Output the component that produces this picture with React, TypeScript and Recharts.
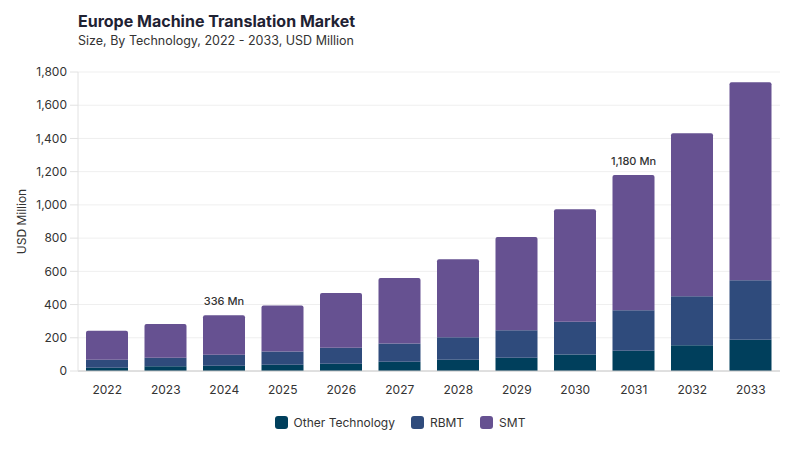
import { BarChart, Bar, XAxis, YAxis, CartesianGrid, LabelList } from "recharts";

const years = ["2022", "2023", "2024", "2025", "2026", "2027", "2028", "2029", "2030", "2031", "2032", "2033"];
const otherTech = [20, 28, 32, 38, 44, 56, 68, 80, 100, 122, 155, 188];
const rbmt = [48, 52, 66, 80, 96, 109, 135, 165, 197, 243, 295, 358];
const smt = [175, 203, 238, 277, 329, 395, 469, 562, 676, 815, 981, 1192];
const yTicks = [0, 200, 400, 600, 800, 1000, 1200, 1400, 1600, 1800];
const labelled = ["2024", "2031"];

const data = years.map((year, i) => ({
  year,
  other: otherTech[i],
  rbmt: rbmt[i],
  smt: smt[i],
  total: otherTech[i] + rbmt[i] + smt[i],
}));

const FONT = "Inter, 'Noto Sans', sans-serif";

const series = [
  { key: "other", name: "Other Technology", color: "#003f5c" },
  { key: "rbmt", name: "RBMT", color: "#2f4b7c" },
  { key: "smt", name: "SMT", color: "#665191" },
];

const TotalLabel = (props: any) => {
  const { x, y, width, index } = props;
  const d = data[index];
  if (!labelled.includes(d.year)) return null;
  return (
    <text x={x + width / 2} y={y - 10} textAnchor="middle" fontSize={11} fill="#333" fontFamily={FONT} fontWeight={500}>
      {d.total.toLocaleString("en-US")} Mn
    </text>
  );
};

export default function App() {
  return (
    <div style={{ position: "absolute", left: 0, top: 0, width: 800, height: 450, background: "#fff", fontFamily: FONT }}>
      <div style={{ position: "absolute", left: 78, top: 11, fontSize: 16, fontWeight: 700, color: "#1f2233" }}>
        Europe Machine Translation Market
      </div>
      <div style={{ position: "absolute", left: 78, top: 33, fontSize: 12.5, color: "#333" }}>
        Size, By Technology, 2022 - 2033, USD Million
      </div>
      <BarChart width={800} height={450} data={data} margin={{ top: 72, right: 20, bottom: 49, left: 0 }} barSize={42}>
        <CartesianGrid vertical={false} stroke="#efefef" />
        <XAxis dataKey="year" axisLine={{ stroke: "#c8c8c8" }} tickLine={false} tickMargin={8}
          tick={{ fontSize: 12, fill: "#333", fontFamily: FONT }} height={30} />
        <YAxis width={78} domain={[0, 1800]} ticks={yTicks} axisLine={{ stroke: "#e2e2e2" }}
          tickLine={{ stroke: "#e2e2e2" }} tickSize={8} tickMargin={3}
          tick={{ fontSize: 12, fill: "#333", fontFamily: FONT }}
          tickFormatter={(v) => v.toLocaleString("en-US")}
          label={{ value: "USD Million", angle: -90, position: "insideLeft", offset: 22, style: { fontSize: 12, fill: "#333", fontFamily: FONT, textAnchor: "middle" } }} />
        <Bar dataKey="other" name="Other Technology" stackId="a" fill="#003f5c" isAnimationActive={false} />
        <Bar dataKey="rbmt" name="RBMT" stackId="a" fill="#2f4b7c" isAnimationActive={false} />
        <Bar dataKey="smt" name="SMT" stackId="a" fill="#665191" radius={[2, 2, 0, 0]} isAnimationActive={false}>
          <LabelList dataKey="total" content={<TotalLabel />} />
        </Bar>
      </BarChart>
      <div style={{ position: "absolute", left: 0, width: 800, top: 415, display: "flex", justifyContent: "center", gap: 16, fontSize: 12, color: "#333" }}>
        {series.map((s) => (
          <div key={s.key} style={{ display: "flex", alignItems: "center", gap: 6 }}>
            <span style={{ width: 13, height: 13, borderRadius: 3, background: s.color, display: "inline-block" }} />
            <span>{s.name}</span>
          </div>
        ))}
      </div>
    </div>
  );
}
